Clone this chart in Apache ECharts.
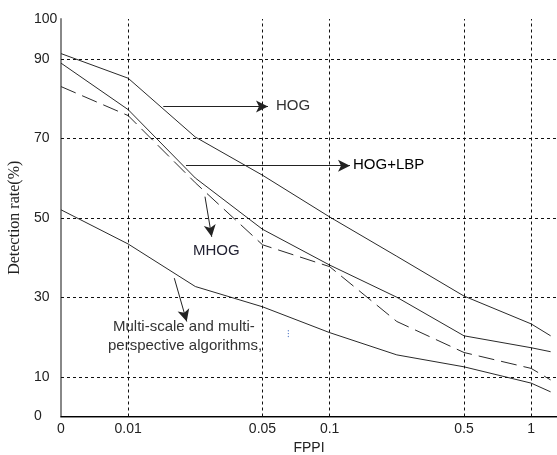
<!DOCTYPE html>
<html><head><meta charset="utf-8">
<script src="https://cdn.jsdelivr.net/npm/echarts@6/dist/echarts.min.js"></script>
<style>html,body{margin:0;padding:0;background:#fff}#c{width:557px;height:455px}</style>
</head><body><div id="c"></div>
<script>
// x positions are evenly spaced slots of the FPPI axis (0, 0.01, 0.02, 0.05, 0.1, 0.2, 0.5, 1, end)
const xPositions = [0, 1, 2, 3, 4, 5, 6, 7, 7.29];
const xTickPositions = [0, 1, 2, 3, 4, 5, 6, 7];
const xTickLabels = ['0', '0.01', '', '0.05', '0.1', '', '0.5', '1'];
const yTickLabels = [0, 10, 30, 50, 70, 90, 100];
const yGridValues = [10, 30, 50, 70, 90];
const xGridPositions = [1, 3, 4, 6, 7];

const hog    = [91.3, 85.1, 70.3, 60.7, 50.2, 40.3, 30.3, 23.3, 20.3];
const hogLbp = [88.9, 77.2, 60.0, 47.1, 38.1, 30.0, 20.3, 17.3, 16.3];
const mhog   = [83.0, 75.7, 58.8, 43.2, 37.7, 23.9, 16.1, 12.1, 9.2];
const multi  = [52.0, 43.4, 32.7, 27.6, 21.1, 15.5, 12.5, 8.4, 6.2];

// annotation arrows in data coordinates: [x0, y0, x1, y1]
const arrows = [
  [1.523, 78.0, 3.082, 78.0],
  [1.861, 63.1, 4.303, 63.1],
  [2.144, 55.3, 2.244, 45.2],
  [1.687, 34.8, 1.872, 23.9]
];

const FONT = "'Liberation Sans', Arial, sans-serif";
const chart = echarts.init(document.getElementById('c'), null, {renderer: 'canvas'});

function pairs(ys) { return ys.map((y, i) => [xPositions[i], y]); }

const lineBase = {type: 'line', symbol: 'none', silent: true, animation: false, z: 3};

option = {
  animation: false,
  backgroundColor: '#fff',
  grid: {left: 61, right: 0, top: 19, bottom: 38.5, outerBoundsMode: 'none', containLabel: false},
  xAxis: [{
    type: 'value', min: 0, max: 7.385, interval: 1,
    axisLine: {show: true, onZero: false, lineStyle: {color: '#666', width: 1.5}},
    axisTick: {show: false},
    splitLine: {show: false},
    axisLabel: {
      margin: 6, color: '#222', fontFamily: FONT, fontSize: 14,
      showMaxLabel: false,
      formatter: v => { const i = xTickPositions.indexOf(v); return i >= 0 ? xTickLabels[i] : ''; }
    },
    name: 'FPPI', nameLocation: 'middle', nameGap: 23,
    nameTextStyle: {color: '#222', fontFamily: FONT, fontSize: 14}
  }, {
    type: 'value', position: 'top', min: 0, max: 7.385,
    axisLine: {show: true, lineStyle: {color: '#000', width: 1}},
    axisTick: {show: false}, axisLabel: {show: false}, splitLine: {show: false}
  }],
  yAxis: {
    type: 'value', min: 0, max: 100, interval: 10,
    axisLine: {show: true, lineStyle: {color: '#888', width: 2}},
    axisTick: {show: false},
    splitLine: {show: false},
    axisLabel: {
      align: 'left', margin: 27, color: '#222', fontFamily: FONT, fontSize: 14,
      formatter: v => yTickLabels.includes(v) ? String(v) : ''
    },
    name: 'Detection rate(%)', nameLocation: 'middle', nameGap: 36,
    nameTextStyle: {color: '#222', fontFamily: "'Liberation Serif', 'Times New Roman', serif", fontSize: 16}
  },
  series: [
    Object.assign({}, lineBase, {
      name: 'grid', data: [], z: 1,
      markLine: {
        silent: true, symbol: 'none', label: {show: false}, animation: false,
        lineStyle: {color: '#111', width: 1, type: [3, 3]},
        data: yGridValues.map(v => ({yAxis: v})).concat(xGridPositions.map(v => ({xAxis: v})))
      }
    }),
    Object.assign({}, lineBase, {name: 'HOG', data: pairs(hog), lineStyle: {color: '#2a2a2a', width: 1}}),
    Object.assign({}, lineBase, {name: 'HOG+LBP', data: pairs(hogLbp), lineStyle: {color: '#2a2a2a', width: 1}}),
    Object.assign({}, lineBase, {name: 'MHOG', data: pairs(mhog), lineStyle: {color: '#2a2a2a', width: 1, type: [16, 7]}}),
    Object.assign({}, lineBase, {name: 'Multi-scale and multi-perspective algorithms', data: pairs(multi), lineStyle: {color: '#2a2a2a', width: 1}}),
    Object.assign({}, lineBase, {
      name: 'arrows', data: [], z: 4,
      markLine: {
        silent: true, symbol: ['none', 'arrow'], symbolSize: [9, 12], label: {show: false}, animation: false,
        lineStyle: {color: '#222', width: 1, type: 'solid'},
        itemStyle: {color: '#000'},
        data: arrows.map(a => [{coord: [a[0], a[1]]}, {coord: [a[2], a[3]]}])
      }
    })
  ],
  graphic: [
    {type: 'text', left: 276, top: 98, style: {text: 'HOG', fill: '#333', font: '15px ' + FONT}},
    {type: 'text', left: 353, top: 157, style: {text: 'HOG+LBP', fill: '#000', font: '15px ' + FONT}},
    {type: 'text', left: 193, top: 243, style: {text: 'MHOG', fill: '#223', font: '15px ' + FONT}},
    {type: 'text', left: 113, top: 319, style: {text: 'Multi-scale and multi-', fill: '#333', font: '15px ' + FONT}},
    {type: 'text', left: 108, top: 338, style: {text: 'perspective algorithms,', fill: '#333', font: '15px ' + FONT}},
    {type: 'text', left: 287, top: 329, style: {text: '⁝', fill: '#5a7fc8', font: '10px ' + FONT}}
  ]
};
chart.setOption(option);
</script>
</body></html>
